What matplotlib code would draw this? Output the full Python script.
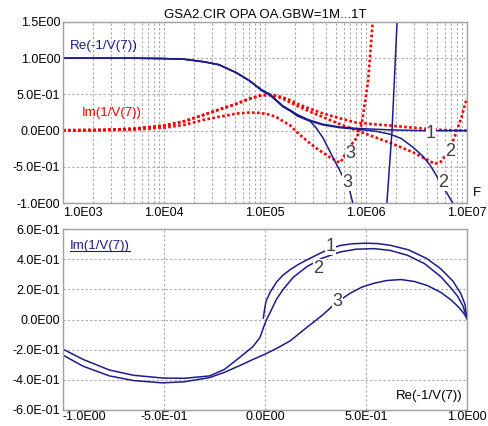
import matplotlib
matplotlib.use('Agg')
import matplotlib.pyplot as plt
from matplotlib.lines import Line2D

plt.rcParams['font.family'] = ['Liberation Sans', 'DejaVu Sans']
plt.rcParams['font.size'] = 9

NAVY = '#1c1c8e'
RED = '#ff0000'
GRID = '#a8a8a8'
SPINE = '#a0a0a0'
NUM = '#404040'

# --- Re(-1/V(7)) vs frequency, one run per GBW step ---
re1_f = [1e3, 5e3, 1e4, 1.6e4, 2.5e4, 3.5e4, 5.2e4, 7e4, 9.3e4, 1.12e5, 1.32e5, 1.5e5,
         1.78e5, 2.1e5, 2.7e5, 3.7e5, 5.5e5, 8.1e5, 1.74e6, 3.6e6, 1e7]
re1_v = [1.0, 1.0, 0.995, 0.985, 0.95, 0.91, 0.8, 0.69, 0.56, 0.5, 0.41, 0.34,
         0.28, 0.22, 0.15, 0.09, 0.05, 0.03, 0.01, 0.0, 0.0]

re2_f = [1e3, 5e3, 1e4, 1.6e4, 2.5e4, 3.5e4, 5.2e4, 7e4, 9.3e4, 1.12e5, 1.32e5, 1.5e5,
         1.78e5, 2.1e5, 2.7e5, 3.7e5, 5.5e5, 8.1e5, 1.26e6, 1.74e6, 2.24e6, 2.92e6,
         3.63e6, 4.27e6, 4.79e6, 5.5e6, 6.3e6, 7.24e6, 8.9e6]
re2_v = [1.0, 1.0, 0.995, 0.985, 0.95, 0.91, 0.8, 0.69, 0.56, 0.5, 0.41, 0.34,
         0.28, 0.21, 0.14, 0.08, 0.04, 0.02, -0.01, -0.05, -0.11, -0.23,
         -0.35, -0.47, -0.58, -0.73, -0.86, -1.0, -1.4]

re3_f = [1e3, 5e3, 1e4, 1.6e4, 2.5e4, 3.5e4, 5.2e4, 7e4, 9.3e4, 1.12e5, 1.32e5, 1.5e5,
         1.78e5, 2.1e5, 2.8e5, 3.2e5, 3.75e5, 4.7e5, 5.5e5, 6.9e5, 7.4e5, 8.1e5,
         1.0e6, 1.45e6, 1.61e6, 1.81e6, 2.03e6, 2.24e6]
re3_v = [1.0, 1.0, 0.995, 0.985, 0.95, 0.91, 0.8, 0.69, 0.55, 0.49, 0.4, 0.33,
         0.27, 0.2, 0.13, 0.04, -0.1, -0.37, -0.55, -0.83, -1.0, -1.3,
         -2.0, -2.0, -1.0, 0.0, 1.5, 2.5]

# --- Im(1/V(7)) vs frequency ---
im1_f = [1e3, 2.5e3, 5e3, 1e4, 1.6e4, 2.5e4, 3.5e4, 5.2e4, 7e4, 9.3e4, 1.12e5, 1.32e5,
         1.5e5, 1.78e5, 2.1e5, 2.7e5, 3.7e5, 5.5e5, 8.1e5, 1.26e6, 1.74e6, 2.92e6,
         3.63e6, 5.5e6, 1e7]
im1_v = [0.005, 0.01, 0.025, 0.07, 0.13, 0.22, 0.29, 0.37, 0.44, 0.49, 0.495, 0.48,
         0.46, 0.42, 0.37, 0.31, 0.24, 0.17, 0.11, 0.085, 0.07, 0.04,
         0.03, 0.01, 0.0]

im2_f = [1e3, 2.5e3, 5e3, 1e4, 1.6e4, 2.5e4, 3.5e4, 5.2e4, 7e4, 9.3e4, 1.12e5, 1.32e5,
         1.5e5, 1.78e5, 2.1e5, 2.7e5, 3.7e5, 5.5e5, 8.1e5, 1.17e6, 1.74e6, 2.92e6,
         4.27e6, 4.79e6, 5.5e6, 6.3e6, 7.24e6, 7.94e6, 8.9e6, 9.55e6, 1e7]
im2_v = [0.005, 0.01, 0.025, 0.07, 0.13, 0.22, 0.29, 0.37, 0.44, 0.49, 0.49, 0.47,
         0.44, 0.39, 0.34, 0.27, 0.19, 0.09, 0.0, -0.08, -0.17, -0.3,
         -0.42, -0.46, -0.43, -0.32, -0.15, 0.0, 0.2, 0.36, 0.45]

im3_f = [1e3, 2.5e3, 5e3, 1e4, 1.6e4, 2.5e4, 3.5e4, 5.2e4, 7e4, 8.9e4, 1.12e5, 1.32e5,
         1.78e5, 2.1e5, 2.7e5, 3.2e5, 3.7e5, 4.4e5, 5.3e5, 5.6e5, 5.9e5, 6.9e5,
         8.1e5, 9.1e5, 1.05e6, 1.17e6, 1.3e6]
im3_v = [0.0, 0.006, 0.015, 0.04, 0.08, 0.15, 0.19, 0.235, 0.25, 0.245, 0.22, 0.18,
         0.07, -0.03, -0.16, -0.24, -0.3, -0.37, -0.43, -0.44, -0.38, -0.22,
         -0.1, 0.1, 0.69, 1.53, 2.2]

# --- Im(1/V(7)) against Re(-1/V(7)) ---
nyq1_re = [-0.008, -0.003, 0.005, 0.025, 0.058, 0.09, 0.124, 0.165, 0.207, 0.274, 0.32,
           0.37, 0.43, 0.5, 0.56, 0.62, 0.71, 0.8, 0.87, 0.93, 0.97, 0.99, 1.0]
nyq1_im = [0.01, 0.06, 0.12, 0.18, 0.25, 0.295, 0.33, 0.365, 0.395, 0.44, 0.468,
           0.49, 0.502, 0.506, 0.503, 0.492, 0.462, 0.405, 0.336, 0.255, 0.17, 0.1, 0.005]

nyq2_re = [-1.0, -0.9, -0.77, -0.65, -0.507, -0.4, -0.274, -0.2, -0.124, -0.06, -0.025,
           -0.008, 0.008, 0.025, 0.055, 0.09, 0.14, 0.207, 0.28, 0.373, 0.45, 0.539,
           0.62, 0.705, 0.79, 0.87, 0.92, 0.954, 0.98, 1.0]
nyq2_im = [-0.197, -0.265, -0.335, -0.37, -0.388, -0.39, -0.374, -0.33, -0.25, -0.18, -0.12,
           -0.055, 0.0, 0.045, 0.13, 0.2, 0.28, 0.35, 0.405, 0.448, 0.466, 0.47,
           0.458, 0.426, 0.37, 0.284, 0.21, 0.153, 0.09, 0.005]

nyq3_re = [-1.0, -0.9, -0.77, -0.65, -0.507, -0.4, -0.274, -0.2, -0.124, -0.06, 0.0,
           0.06, 0.124, 0.2, 0.29, 0.35, 0.423, 0.48, 0.539, 0.6, 0.672, 0.74, 0.804,
           0.87, 0.92, 0.96, 0.985, 1.0]
nyq3_im = [-0.236, -0.31, -0.374, -0.405, -0.42, -0.413, -0.385, -0.35, -0.305, -0.265, -0.23,
           -0.19, -0.142, -0.06, 0.035, 0.11, 0.175, 0.215, 0.24, 0.258, 0.265, 0.252, 0.225,
           0.18, 0.131, 0.08, 0.04, 0.005]

f_ticks = [1e3, 1e4, 1e5, 1e6, 1e7]
f_labels = ['1.0E03', '1.0E04', '1.0E05', '1.0E06', '1.0E07']
top_yticks = [1.5, 1.0, 0.5, 0.0, -0.5, -1.0]
top_ylabels = ['1.5E00', '1.0E00', '5.0E-01', '0.0E00', '-5.0E-01', '-1.0E00']
bot_xticks = [-1.0, -0.5, 0.0, 0.5, 1.0]
bot_xlabels = ['-1.0E00', '-5.0E-01', '0.0E00', '5.0E-01', '1.0E00']
bot_yticks = [0.6, 0.4, 0.2, 0.0, -0.2, -0.4, -0.6]
bot_ylabels = ['6.0E-01', '4.0E-01', '2.0E-01', '0.0E00', '-2.0E-01', '-4.0E-01', '-6.0E-01']

W, H = 488, 426
fig = plt.figure(figsize=(W / 100, H / 100), dpi=100)
ax1 = fig.add_axes([63 / W, 1 - 203 / H, 404 / W, 181 / H])
ax2 = fig.add_axes([63 / W, 1 - 410 / H, 404 / W, 181 / H])

grid_kw = dict(color=GRID, lw=0.8, linestyle=(0, (2, 2)))
for ax in (ax1, ax2):
    for s in ax.spines.values():
        s.set_color(SPINE)
        s.set_linewidth(1.0)
    ax.tick_params(which='both', length=0, labelsize=9, colors='black')
    ax.tick_params(axis='y', pad=2)
ax1.tick_params(axis='x', pad=3)
ax2.tick_params(axis='x', pad=1)

# top: frequency sweep
ax1.set_xscale('log')
ax1.set_xlim(1e3, 1e7)
ax1.set_ylim(-1.0, 1.5)
minor = [m * 10 ** d for d in range(3, 7) for m in range(2, 10)]
ax1.set_xticks(minor, minor=True)
ax1.set_xticklabels([], minor=True)
ax1.set_xticks(f_ticks, f_labels)
ax1.set_yticks(top_yticks, top_ylabels)
ax1.grid(which='both', axis='x', **grid_kw)
ax1.grid(which='major', axis='y', **grid_kw)
ax1.get_xticklabels()[0].set_horizontalalignment('left')

dot = dict(color=RED, lw=1.9, linestyle=(0, (1, 0.9)))
ax1.plot(im3_f, im3_v, **dot)
ax1.plot(im2_f, im2_v, **dot)
ax1.plot(im1_f, im1_v, **dot)
for f, v in ((re3_f, re3_v), (re2_f, re2_v), (re1_f, re1_v)):
    ax1.plot(f, v, color=NAVY, lw=1.1)

ax1.set_title('GSA2.CIR OPA OA.GBW=1M...1T', fontsize=9.5, pad=3)
ax1.text(0.017, 0.867, 'Re(-1/V(7))', transform=ax1.transAxes, color=NAVY,
         fontsize=9.7, va='center')
ax1.text(0.047, 0.497, 'Im(1/V(7))', transform=ax1.transAxes, color=RED,
         fontsize=9.5, va='center')
ax1.text(1.025, 0.055, 'F', transform=ax1.transAxes, fontsize=9.5, va='center', ha='center')

num_kw = dict(fontsize=13, color=NUM, ha='center', va='center', zorder=6,
              bbox=dict(facecolor='white', edgecolor='none', pad=0.3))
for txt, f, v in (('1', 4.41e6, -0.04), ('2', 6.8e6, -0.29), ('2', 5.78e6, -0.71),
                  ('3', 6.95e5, -0.32), ('3', 6.49e5, -0.71)):
    ax1.text(f, v, txt, **num_kw)

# bottom: Im against Re
ax2.set_xlim(-1.0, 1.0)
ax2.set_ylim(-0.6, 0.6)
ax2.set_xticks(bot_xticks, bot_xlabels)
ax2.set_yticks(bot_yticks, bot_ylabels)
ax2.grid(which='major', **grid_kw)
ax2.get_xticklabels()[0].set_horizontalalignment('left')

for re, im in ((nyq3_re, nyq3_im), (nyq2_re, nyq2_im), (nyq1_re, nyq1_im)):
    ax2.plot(re, im, color=NAVY, lw=1.1)

for txt, x, y in (('1', 0.323, 0.485), ('2', 0.264, 0.341), ('3', 0.358, 0.118)):
    ax2.text(x, y, txt, **num_kw)

ylab = ax2.text(0.017, 0.907, 'Im(1/V(7))', transform=ax2.transAxes, color=NAVY,
                fontsize=9.5, va='center')
ax2.text(0.988, 0.0765, 'Re(-1/V(7))', transform=ax2.transAxes, color='black',
         fontsize=9.5, va='center', ha='right')

# underline the y-axis caption
fig.canvas.draw()
bb = ylab.get_window_extent()
fig.add_artist(Line2D([bb.x0, bb.x1], [bb.y0 + 0.5, bb.y0 + 0.5], transform=None,
                      color=NAVY, lw=0.8))

fig.savefig('out.png', dpi=100)
